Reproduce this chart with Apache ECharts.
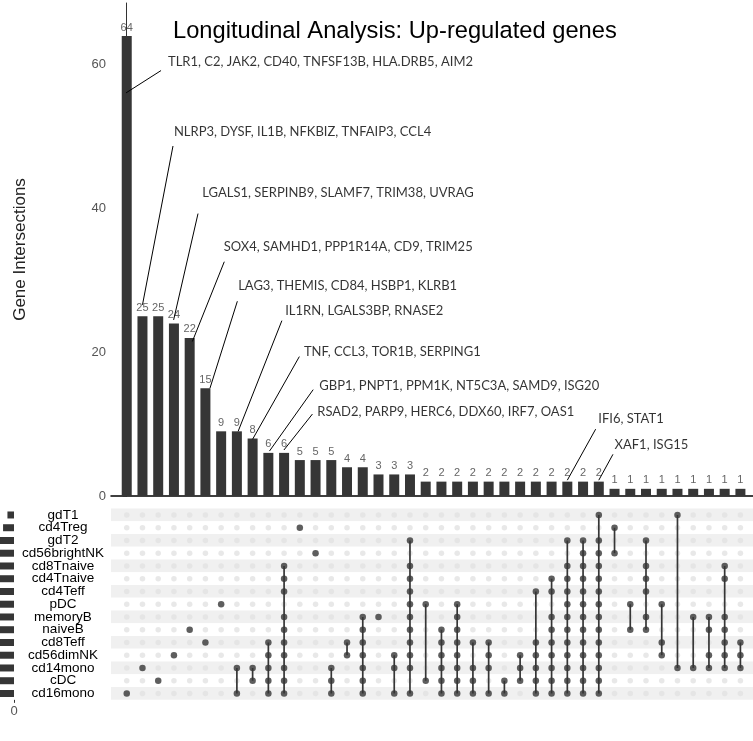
<!DOCTYPE html>
<html>
<head>
<meta charset="utf-8">
<script src="https://cdn.jsdelivr.net/npm/echarts/dist/echarts.min.js"></script>
<style>html,body{margin:0;padding:0;background:#fff}#main{width:753px;height:741px}</style>
</head>
<body>
<div id="main"></div>
<script>
// sets, top to bottom
var setNames = ['gdT1', 'cd4Treg', 'gdT2', 'cd56brightNK', 'cd8Tnaive', 'cd4Tnaive', 'cd4Teff',
  'pDC', 'memoryB', 'naiveB', 'cd8Teff', 'cd56dimNK', 'cd14mono', 'cDC', 'cd16mono'];
// set sizes (only the two smallest are readable, the rest run off the left edge)
var setSizes = [3, 5, 10, 11, 20, 21, 23, 30, 34, 47, 56, 62, 98, 85, 111];

// intersection sizes, left to right
var counts = [64, 25, 25, 24, 22, 15, 9, 9, 8, 6, 6, 5, 5, 5, 4, 4, 3, 3, 3,
  2, 2, 2, 2, 2, 2, 2, 2, 2, 2, 2, 2,
  1, 1, 1, 1, 1, 1, 1, 1, 1];

// sets in each intersection
var members = [
  ['cd16mono'],
  ['cd14mono'],
  ['cDC'],
  ['cd56dimNK'],
  ['naiveB'],
  ['cd8Teff'],
  ['pDC'],
  ['cd14mono', 'cd16mono'],
  ['cd14mono', 'cDC'],
  ['cd8Teff', 'cd56dimNK', 'cd14mono', 'cDC', 'cd16mono'],
  ['cd8Tnaive', 'cd4Tnaive', 'cd4Teff', 'memoryB', 'naiveB', 'cd8Teff', 'cd56dimNK', 'cd14mono', 'cDC', 'cd16mono'],
  ['cd4Treg'],
  ['cd56brightNK'],
  ['cd14mono', 'cDC', 'cd16mono'],
  ['cd8Teff', 'cd56dimNK'],
  ['memoryB', 'naiveB', 'cd8Teff', 'cd56dimNK', 'cd14mono', 'cDC', 'cd16mono'],
  ['memoryB'],
  ['cd56dimNK', 'cd14mono', 'cd16mono'],
  ['gdT2', 'cd8Tnaive', 'cd4Tnaive', 'cd4Teff', 'pDC', 'memoryB', 'naiveB', 'cd8Teff', 'cd56dimNK', 'cd14mono', 'cd16mono'],
  ['pDC', 'cDC'],
  ['naiveB', 'cd8Teff', 'cd56dimNK', 'cd14mono', 'cDC', 'cd16mono'],
  ['pDC', 'memoryB', 'naiveB', 'cd8Teff', 'cd56dimNK', 'cd14mono', 'cDC', 'cd16mono'],
  ['cd8Teff', 'cd14mono', 'cDC', 'cd16mono'],
  ['cd8Teff', 'cd56dimNK', 'cd14mono', 'cd16mono'],
  ['cDC', 'cd16mono'],
  ['cd56dimNK', 'cd14mono', 'cDC'],
  ['cd4Teff', 'cd8Teff', 'cd56dimNK', 'cd14mono', 'cDC', 'cd16mono'],
  ['cd4Tnaive', 'cd4Teff', 'memoryB', 'naiveB', 'cd8Teff', 'cd56dimNK', 'cd14mono', 'cDC', 'cd16mono'],
  ['gdT2', 'cd8Tnaive', 'cd4Tnaive', 'cd4Teff', 'pDC', 'memoryB', 'naiveB', 'cd8Teff', 'cd56dimNK', 'cd14mono', 'cDC', 'cd16mono'],
  ['gdT2', 'cd56brightNK', 'cd8Tnaive', 'cd4Tnaive', 'cd4Teff', 'pDC', 'memoryB', 'naiveB', 'cd8Teff', 'cd56dimNK', 'cd14mono', 'cDC', 'cd16mono'],
  ['gdT1', 'gdT2', 'cd56brightNK', 'cd8Tnaive', 'cd4Tnaive', 'cd4Teff', 'pDC', 'memoryB', 'naiveB', 'cd8Teff', 'cd56dimNK', 'cd14mono', 'cDC', 'cd16mono'],
  ['cd4Treg', 'cd56brightNK'],
  ['pDC', 'naiveB'],
  ['gdT2', 'cd8Tnaive', 'cd4Tnaive', 'cd4Teff', 'memoryB', 'naiveB'],
  ['pDC', 'cd8Teff', 'cd56dimNK'],
  ['gdT1', 'cd14mono'],
  ['memoryB', 'cd14mono'],
  ['memoryB', 'naiveB', 'cd56dimNK', 'cd14mono'],
  ['cd8Tnaive', 'cd4Tnaive', 'memoryB', 'naiveB', 'cd8Teff', 'cd56dimNK', 'cd14mono'],
  ['cd8Teff', 'cd56dimNK', 'cd14mono']
];

// gene lists written next to some bars
var geneLabels = [
  'TLR1, C2, JAK2, CD40, TNFSF13B, HLA.DRB5, AIM2',
  'NLRP3, DYSF, IL1B, NFKBIZ, TNFAIP3, CCL4',
  'LGALS1, SERPINB9, SLAMF7, TRIM38, UVRAG',
  'SOX4, SAMHD1, PPP1R14A, CD9, TRIM25',
  'LAG3, THEMIS, CD84, HSBP1, KLRB1',
  'IL1RN, LGALS3BP, RNASE2',
  'TNF, CCL3, TOR1B, SERPING1',
  'GBP1, PNPT1, PPM1K, NT5C3A, SAMD9, ISG20',
  'RSAD2, PARP9, HERC6, DDX60, IRF7, OAS1',
  'IFI6, STAT1',
  'XAF1, ISG15'
];

// where the gene lists sit and where their leader lines run (column, count units)
var labelAt = [[2.62, 60.4], [3.0, 50.7], [4.8, 42.2], [6.16, 34.7], [7.08, 29.3], [10.07, 25.8],
  [11.26, 20.1], [12.24, 15.3], [12.11, 11.7], [29.97, 10.8], [31.0, 7.1]];
var lineFrom = [[2.18, 59.2], [2.94, 48.7], [4.53, 39.3], [6.2, 32.6], [7.03, 27.1], [9.86, 24.4],
  [10.97, 19.4], [11.85, 14.8], [11.8, 11.4], [29.8, 9.3], [30.9, 5.8]];
var lineTo = [[-0.04, 56.1], [1.0, 26.6], [2.98, 24.5], [4.17, 21.5], [5.29, 15.0], [7.08, 9.0],
  [8.0, 7.9], [9.07, 6.25], [9.99, 6.4], [28.0, 2.2], [30.0, 2.2]];

var font = 'Liberation Sans';
var dark = '#363636';

var myChart = echarts.init(document.getElementById('main'));

var emptyDots = [], fullDots = [], stems = [];
members.forEach(function (m, i) {
  var rows = m.map(function (s) { return setNames.indexOf(s); });
  setNames.forEach(function (s, r) {
    if (rows.indexOf(r) < 0) emptyDots.push([i, r]);
    else fullDots.push([i, r]);
  });
  if (rows.length > 1) stems.push([i, Math.min.apply(null, rows), Math.max.apply(null, rows)]);
});

var option = {
  backgroundColor: '#fff',
  animation: false,
  title: {
    text: 'Longitudinal Analysis: Up-regulated genes',
    left: 168, top: 14,
    textStyle: { fontFamily: font, fontSize: 23.7, fontWeight: 'normal', color: '#000' }
  },
  grid: [
    { left: 111, right: 0, top: 3, height: 493 },
    { left: 111, right: 0, top: 508.6, height: 191.25 },
    { left: 0, width: 14, top: 508.6, height: 191.25 }
  ],
  xAxis: [
    { gridIndex: 0, type: 'value', min: -1, max: 39.8,
      axisLine: { show: true, onZero: false, lineStyle: { color: '#000', width: 1.5 } },
      axisTick: { show: false }, axisLabel: { show: false }, splitLine: { show: false } },
    { gridIndex: 1, type: 'value', min: -1, max: 39.8, show: false },
    { gridIndex: 2, type: 'value', min: 0, max: 6.4, inverse: true,
      axisLine: { show: false }, splitLine: { show: false },
      axisTick: { show: true, length: 3, lineStyle: { color: '#333' }, customValues: [0] },
      axisLabel: { color: '#555', fontFamily: font, fontSize: 13, margin: 5, customValues: [0] } }
  ],
  yAxis: [
    { gridIndex: 0, type: 'value', min: 0, max: 68.6,
      name: 'Gene Intersections', nameLocation: 'middle', nameGap: 82,
      nameTextStyle: { fontFamily: font, fontSize: 17, color: '#222' },
      axisLine: { show: true, lineStyle: { color: '#333', width: 1 } },
      axisTick: { show: true, length: 4, lineStyle: { color: '#333' }, customValues: [0, 20, 40, 60] },
      axisLabel: { color: '#555', fontFamily: font, fontSize: 13, margin: 5, customValues: [0, 20, 40, 60] },
      splitLine: { show: false } },
    { gridIndex: 1, type: 'category', data: setNames, inverse: true,
      axisLine: { show: false }, axisTick: { show: false },
      axisLabel: { interval: 0, color: '#000', fontFamily: font, fontSize: 13.5, align: 'center', margin: 48,
        lineHeight: 13 },
      splitArea: { show: true, interval: 0, areaStyle: { color: ['#f0f0f0', '#ffffff'] } } },
    { gridIndex: 2, type: 'category', data: setNames, inverse: true, show: false }
  ],
  series: [
    {
      type: 'bar', xAxisIndex: 0, yAxisIndex: 0, barWidth: 10,
      data: counts.map(function (v, i) { return [i, v]; }),
      itemStyle: { color: dark },
      label: { show: true, position: 'top', distance: 3, color: '#666', fontFamily: font, fontSize: 11,
        formatter: function (p) { return p.data[1]; } }
    },
    {
      type: 'custom', xAxisIndex: 0, yAxisIndex: 0, z: 5,
      data: lineFrom.map(function (a, i) { return [a[0], a[1], lineTo[i][0], lineTo[i][1]]; }),
      renderItem: function (params, api) {
        var p1 = api.coord([api.value(0), api.value(1)]);
        var p2 = api.coord([api.value(2), api.value(3)]);
        return { type: 'line', shape: { x1: p1[0], y1: p1[1], x2: p2[0], y2: p2[1] },
          style: { stroke: '#000', lineWidth: 1 } };
      }
    },
    {
      type: 'scatter', xAxisIndex: 0, yAxisIndex: 0, symbolSize: 0,
      data: labelAt.map(function (a, i) { return [a[0], a[1], geneLabels[i]]; }),
      label: { show: true, position: 'right', distance: 0, color: '#000', fontFamily: 'Lato', fontSize: 13,
        formatter: function (p) { return p.data[2]; } }
    },
    {
      type: 'scatter', xAxisIndex: 1, yAxisIndex: 1, symbolSize: 5.5,
      data: emptyDots, itemStyle: { color: '#e2e2e2' }, z: 2
    },
    {
      type: 'custom', xAxisIndex: 1, yAxisIndex: 1, z: 3,
      data: stems,
      renderItem: function (params, api) {
        var p1 = api.coord([api.value(0), api.value(1)]);
        var p2 = api.coord([api.value(0), api.value(2)]);
        return { type: 'line', shape: { x1: p1[0], y1: p1[1], x2: p2[0], y2: p2[1] },
          style: { stroke: dark, lineWidth: 1.7 } };
      }
    },
    {
      type: 'scatter', xAxisIndex: 1, yAxisIndex: 1, symbolSize: 6.5,
      data: fullDots, itemStyle: { color: dark }, z: 4
    },
    {
      type: 'bar', xAxisIndex: 2, yAxisIndex: 2, barWidth: 7, clip: true,
      data: setSizes, itemStyle: { color: dark }
    }
  ]
};

myChart.setOption(option);
</script>
</body>
</html>
